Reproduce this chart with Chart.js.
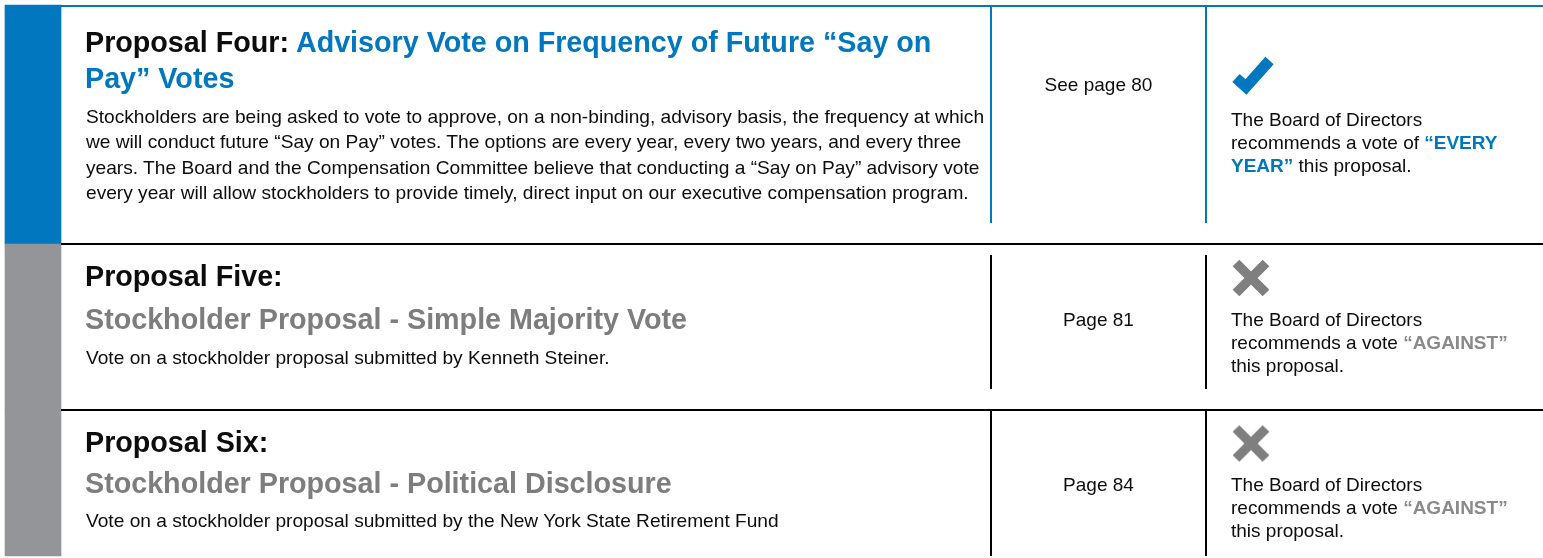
<!DOCTYPE html>
<html>
<head>
<meta charset="utf-8">
<script src="https://cdn.jsdelivr.net/npm/chart.js@4.4.0/dist/chart.umd.min.js"></script>
<style>
  html, body { margin: 0; padding: 0; background: #fff; overflow: hidden; }
  #wrap { position: relative; width: 1543px; height: 558px; font-family: "Liberation Sans", Arial, Helvetica, sans-serif; color: #0d0d0d; }
  #chart { position: absolute; left: 0; top: 0; }
  .t { position: absolute; white-space: nowrap; }
  .title { font-weight: bold; font-size: 28.7px; }
  .body { font-size: 19.15px; }
  .page { font-size: 19px; text-align: center; }
  .verdict { font-size: 19px; white-space: normal; }
  .hl { font-weight: bold; }
</style>
</head>
<body>
<div id="wrap">
  <canvas id="chart" width="1543" height="558"></canvas>
  <div id="labels"></div>
</div>
<script>
const proposalNames = ['Proposal Four:', 'Proposal Five:', 'Proposal Six:'];
const proposalTitles = [
    'Advisory Vote on Frequency of Future “Say on Pay” Votes',
    'Stockholder Proposal - Simple Majority Vote',
    'Stockholder Proposal - Political Disclosure'
];
const descriptions = [
    ['Stockholders are being asked to vote to approve, on a non-binding, advisory basis, the frequency at which',
     'we will conduct future “Say on Pay” votes. The options are every year, every two years, and every three',
     'years. The Board and the Compensation Committee believe that conducting a “Say on Pay” advisory vote',
     'every year will allow stockholders to provide timely, direct input on our executive compensation program.'],
    ['Vote on a stockholder proposal submitted by Kenneth Steiner.'],
    ['Vote on a stockholder proposal submitted by the New York State Retirement Fund']
];
const pageRefs = ['See page 80', 'Page 81', 'Page 84'];
const voteLead = ['recommends a vote of', 'recommends a vote', 'recommends a vote'];
const recommendations = ['“EVERY YEAR”', '“AGAINST”', '“AGAINST”'];
const boardSupports = [true, false, false];

// layout (pixels, y down)
const BLUE = '#0077be', GREY = '#939598', TEXT_GREY = '#7d7d7d', X_GREY = '#7f7f7f';
const rowEdges = [5, 244, 410, 556];
const colLines = [991, 1206];
const colSpans = [[7, 223], [255, 389], [410, 556]];
const iconPos = [[1253, 76], [1251, 278], [1251, 443.5]];
const nameY = [42, 275.5, 441.7];
const subY = [78, 318.5, 483];
const bodyY = [116.3, 357.5, 520];
const pageY = [84, 319, 484];
const verdictY = [119.5, 319.3, 484.3];

function makeCheck(color){
    var c = document.createElement('canvas');
    c.width = 44; c.height = 40;
    var ctx = c.getContext('2d');
    ctx.strokeStyle = color;
    ctx.lineWidth = 11;
    ctx.lineCap = 'butt';
    ctx.lineJoin = 'miter';
    ctx.beginPath();
    ctx.moveTo(5, 22);
    ctx.lineTo(15, 31);
    ctx.lineTo(38.5, 4.5);
    ctx.stroke();
    return c;
}
function makeCross(color){
    var c = document.createElement('canvas');
    c.width = 40; c.height = 40;
    var ctx = c.getContext('2d');
    ctx.strokeStyle = color;
    ctx.lineWidth = 9.5;
    ctx.lineCap = 'butt';
    ctx.beginPath();
    ctx.moveTo(5, 5); ctx.lineTo(35, 35);
    ctx.moveTo(35, 5); ctx.lineTo(5, 35);
    ctx.stroke();
    return c;
}

function seg(x1, y1, x2, y2, color){
    return {
        type: 'line',
        data: [{x: x1, y: y1}, {x: x2, y: y2}],
        borderColor: color,
        borderWidth: 2,
        borderCapStyle: 'butt',
        pointRadius: 0,
        fill: false,
        tension: 0,
        order: 1
    };
}

var datasets = [];
datasets.push({
    type: 'bar',
    data: boardSupports.map((s, i) => ({x: 33, y: [rowEdges[i], rowEdges[i + 1]]})),
    backgroundColor: boardSupports.map(s => s ? BLUE : GREY),
    borderWidth: 0,
    barThickness: 56,
    order: 3
});
datasets.push(seg(5, 6, 1543, 6, BLUE));
datasets.push(seg(61, rowEdges[1], 1543, rowEdges[1], '#000'));
datasets.push(seg(61, rowEdges[2], 1543, rowEdges[2], '#000'));
colSpans.forEach((span, i) => {
    colLines.forEach(x => {
        datasets.push(seg(x, span[0], x, span[1], boardSupports[i] ? BLUE : '#000'));
    });
});
var checkImg = makeCheck(BLUE), crossImg = makeCross(X_GREY);
datasets.push({
    type: 'scatter',
    data: iconPos.map(p => ({x: p[0], y: p[1]})),
    pointStyle: boardSupports.map(s => s ? checkImg : crossImg),
    pointRadius: 10,
    order: 0
});

new Chart(document.getElementById('chart').getContext('2d'), {
    type: 'bar',
    data: { datasets: datasets },
    options: {
        responsive: false,
        animation: false,
        events: [],
        layout: { padding: 0, autoPadding: false },
        plugins: { legend: { display: false }, tooltip: { enabled: false } },
        scales: {
            x: { type: 'linear', min: 0, max: 1543, display: false, offset: false },
            y: { type: 'linear', min: 0, max: 558, reverse: true, display: false }
        }
    }
});

// text, placed by the centre of its capitals
var labels = document.getElementById('labels');
function place(html, cls, x, capY, size, lineH, width, color){
    var d = document.createElement('div');
    d.className = 't ' + cls;
    d.innerHTML = html;
    d.style.left = x + 'px';
    d.style.top = (capY - lineH / 2 + 0.0135 * size) + 'px';
    d.style.lineHeight = lineH + 'px';
    if (width) d.style.width = width + 'px';
    if (color) d.style.color = color;
    labels.appendChild(d);
    return d;
}

proposalNames.forEach((name, i) => {
    var accent = boardSupports[i] ? BLUE : TEXT_GREY;
    if (i === 0){
        var t = place(name + ' <span style="color:' + accent + '">' + proposalTitles[i] + '</span>', 'title', 85, nameY[i], 28.7, 36, 890);
        t.style.whiteSpace = 'normal';
    } else {
        place(name, 'title', 85, nameY[i], 28.7, 36);
        place(proposalTitles[i], 'title', 85, subY[i], 28.7, 36, null, accent);
    }
    place(descriptions[i].join('<br>'), 'body', 86, bodyY[i], 19.15, 25.3);
    place(pageRefs[i], 'page', 992, pageY[i], 19, 23, 213);
    place('The Board of Directors<br>' + voteLead[i] + ' <span class="hl" style="color:' + (boardSupports[i] ? BLUE : '#8a8a8a') + '">' + recommendations[i] + '</span> this proposal.',
        'verdict', 1231, verdictY[i], 19, 23, 290);
});
</script>
</body>
</html>
